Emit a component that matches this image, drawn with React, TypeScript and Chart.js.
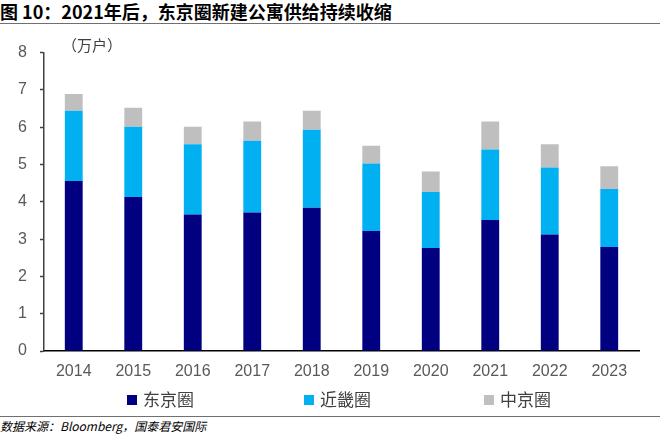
import { useEffect, useRef } from 'react';
import { Chart, registerables } from 'chart.js';

Chart.register(...registerables);

const years = ['2014', '2015', '2016', '2017', '2018', '2019', '2020', '2021', '2022', '2023'];
const tokyo = [4.56, 4.13, 3.66, 3.71, 3.84, 3.22, 2.76, 3.51, 3.12, 2.79];
const kinki = [1.88, 1.88, 1.88, 1.93, 2.09, 1.81, 1.5, 1.89, 1.8, 1.55];
const chukyo = [0.45, 0.51, 0.47, 0.51, 0.51, 0.47, 0.55, 0.75, 0.62, 0.61];
const seriesNames = ['东京圈', '近畿圈', '中京圈'];
const seriesColors = ['#000080', '#00B0F0', '#BFBFBF'];

const CJK = '"Noto Sans CJK SC", "Noto Sans", sans-serif';
const LATIN = '"Liberation Sans", Arial, sans-serif';

// legend drawn on the canvas so the item spacing can match the original
const legendX = [127, 304, 484];
const bottomLegend = {
  id: 'bottomLegend',
  afterDraw(chart: Chart) {
    const { ctx } = chart;
    const y = 370;
    ctx.save();
    chart.data.datasets.forEach((ds, i) => {
      ctx.fillStyle = ds.backgroundColor as string;
      ctx.fillRect(legendX[i], y - 5, 10, 10);
      ctx.fillStyle = '#404040';
      ctx.font = `17px ${CJK}`;
      ctx.textBaseline = 'middle';
      ctx.fillText(ds.label as string, legendX[i] + 16, y);
    });
    ctx.restore();
  },
};

export default function App() {
  const canvasRef = useRef<HTMLCanvasElement>(null);
  const chartRef = useRef<Chart | null>(null);

  useEffect(() => {
    if (!canvasRef.current) return;
    if (chartRef.current) chartRef.current.destroy();

    const values = [tokyo, kinki, chukyo];
    chartRef.current = new Chart(canvasRef.current, {
      type: 'bar',
      data: {
        labels: years,
        datasets: seriesNames.map((name, i) => ({
          label: name,
          data: values[i],
          backgroundColor: seriesColors[i],
          borderWidth: 0,
          barPercentage: 0.3,
          categoryPercentage: 1,
        })),
      },
      plugins: [bottomLegend],
      options: {
        responsive: false,
        animation: false,
        layout: { padding: { top: 19, right: 21, left: 0, bottom: 0 } },
        plugins: {
          legend: { display: false },
          tooltip: { enabled: false },
        },
        scales: {
          x: {
            stacked: true,
            grid: { display: false, drawTicks: false },
            border: { display: true, color: '#000000', width: 1.5 },
            ticks: { color: '#595959', font: { size: 16, family: LATIN }, padding: 11 },
            afterFit: (scale) => {
              scale.height = 64;
            },
          },
          y: {
            stacked: true,
            min: 0,
            max: 8,
            grid: { drawOnChartArea: false, tickLength: 4, tickColor: '#404040', tickWidth: 1.5 },
            border: { display: true, color: '#404040', width: 1.5 },
            ticks: { stepSize: 1, color: '#595959', font: { size: 16, family: LATIN }, padding: 13 },
            afterFit: (scale) => {
              scale.width = 44;
            },
          },
        },
      },
    });

    return () => {
      chartRef.current?.destroy();
      chartRef.current = null;
    };
  }, []);

  return (
    <div style={{ position: 'fixed', left: 0, top: 0, width: 660, height: 435, background: '#fff', overflow: 'hidden' }}>
      <div
        style={{
          position: 'absolute',
          left: 0,
          top: 0,
          width: 660,
          height: 23,
          borderBottom: '1.5px solid #707070',
          fontFamily: CJK,
          fontWeight: 700,
          fontSize: 18,
          lineHeight: '22px',
          color: '#000',
          whiteSpace: 'nowrap',
        }}
      >
        图 10：2021年后，东京圈新建公寓供给持续收缩
      </div>
      <div style={{ position: 'absolute', left: 0, top: 30, width: 660, height: 385 }}>
        <canvas ref={canvasRef} width={660} height={385} style={{ display: 'block' }} />
      </div>
      <div
        style={{
          position: 'absolute',
          left: 62,
          top: 34,
          fontFamily: CJK,
          fontSize: 15,
          color: '#404040',
          whiteSpace: 'nowrap',
        }}
      >
        （万户）
      </div>
      <div
        style={{
          position: 'absolute',
          left: 0,
          top: 416,
          width: 660,
          borderTop: '1.5px solid #707070',
          fontFamily: CJK,
          fontStyle: 'italic',
          fontSize: 12,
          lineHeight: '18px',
          color: '#000',
          whiteSpace: 'nowrap',
        }}
      >
        数据来源：Bloomberg，国泰君安国际
      </div>
    </div>
  );
}
